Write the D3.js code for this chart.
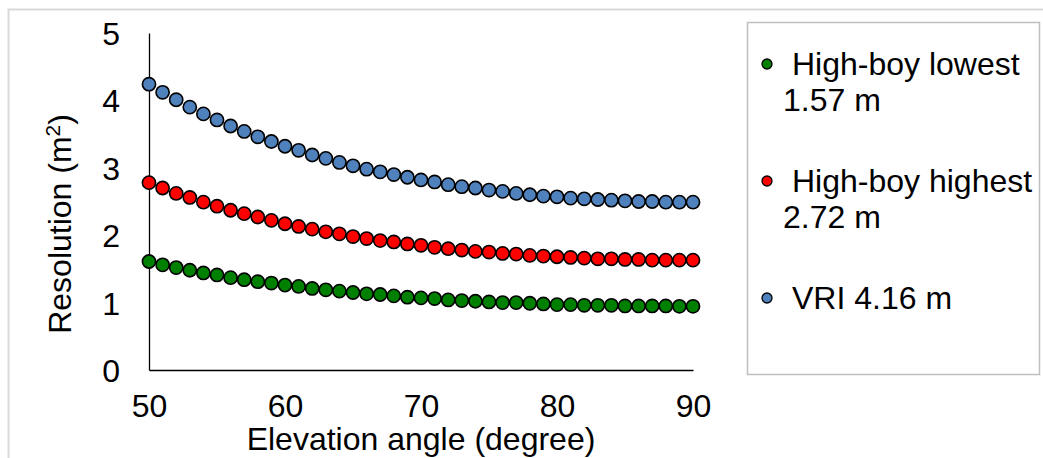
<!DOCTYPE html>
<html>
<head>
<meta charset="utf-8">
<script src="https://cdn.jsdelivr.net/npm/d3@7/dist/d3.min.js"></script>
<style>
  html, body { margin: 0; padding: 0; background: #fff; }
  svg { display: block; }
  text { font-family: "Liberation Sans", Arial, sans-serif; fill: #000; }
</style>
</head>
<body>
<svg id="chart" width="1043" height="458"></svg>
<script>
// ---- Data ----
const angles = d3.range(50, 91); // elevation angle, 50..90 degrees (1° steps)
const highBoyLowest = [1.61,1.56,1.52,1.48,1.44,1.41,1.37,1.34,1.31,1.29,1.26,1.24,1.21,1.19,1.17,1.15,1.13,1.12,1.10,1.08,1.07,1.06,1.04,1.03,1.02,1.01,1.00,1.00,0.99,0.98,0.97,0.97,0.96,0.96,0.96,0.95,0.95,0.95,0.95,0.945,0.945];
const highBoyHighest = [2.78,2.70,2.62,2.56,2.49,2.43,2.37,2.32,2.27,2.22,2.17,2.13,2.09,2.05,2.02,1.98,1.95,1.92,1.90,1.87,1.85,1.82,1.80,1.78,1.76,1.75,1.73,1.72,1.70,1.69,1.68,1.67,1.66,1.65,1.65,1.64,1.64,1.63,1.63,1.63,1.63];
const vri = [4.24,4.12,4.01,3.90,3.80,3.71,3.62,3.54,3.46,3.39,3.32,3.26,3.19,3.14,3.08,3.03,2.98,2.94,2.90,2.86,2.82,2.79,2.75,2.72,2.70,2.67,2.65,2.62,2.60,2.58,2.57,2.55,2.54,2.53,2.52,2.51,2.50,2.50,2.49,2.49,2.49];
const xTicks = [50, 60, 70, 80, 90];
const yTicks = [0, 1, 2, 3, 4, 5];
const seriesNames = ["High-boy lowest", "High-boy highest", "VRI 4.16 m"];
const seriesSub = ["1.57 m", "2.72 m", ""];
const seriesColors = ["#008000", "#ff0000", "#4f81bd"];
const seriesValues = [highBoyLowest, highBoyHighest, vri];

// ---- Layout ----
const svg = d3.select("#chart");
const FS = 32;
const x = d3.scaleLinear().domain([50, 90]).range([149, 693]);
const y = d3.scaleLinear().domain([0, 5]).range([370, 33]);

// outer chart frame
svg.append("rect").attr("x", 8.5).attr("y", 9.5).attr("width", 1100).attr("height", 500)
  .attr("fill", "none").attr("stroke", "#d9d9d9").attr("stroke-width", 2);

// axes
const xAxis = d3.axisBottom(x).tickValues(xTicks).tickSize(0).tickPadding(0).tickFormat(d3.format("d"));
const gx = svg.append("g").attr("transform", `translate(0,${y(0)})`).call(xAxis);
gx.select(".domain").attr("stroke", "#000").attr("stroke-width", 1.3);
gx.selectAll(".tick text").attr("font-size", FS).attr("dy", null).attr("y", 47)
  .style("font-family", "'Liberation Sans', Arial, sans-serif").attr("fill", "#000");

const yAxis = d3.axisLeft(y).tickValues(yTicks).tickSize(0).tickPadding(29).tickFormat(d3.format("d"));
const gy = svg.append("g").attr("transform", `translate(${x(50)},0)`).call(yAxis);
gy.select(".domain").attr("stroke", "#000").attr("stroke-width", 1.3);
gy.selectAll(".tick text").attr("font-size", FS).attr("dy", "0.36em")
  .style("font-family", "'Liberation Sans', Arial, sans-serif").attr("fill", "#000");

// axis titles
svg.append("text").attr("x", (x(50) + x(90)) / 2).attr("y", 450)
  .attr("text-anchor", "middle").attr("font-size", FS).text("Elevation angle (degree)");

const yt = svg.append("text").attr("transform", "translate(71,224) rotate(-90)")
  .attr("text-anchor", "middle").attr("font-size", FS);
yt.append("tspan").text("Resolution (m");
yt.append("tspan").attr("font-size", FS * 0.65).attr("dy", -11).text("2");
yt.append("tspan").attr("dy", 11).text(")");

// points
seriesValues.forEach((vals, i) => {
  svg.append("g").selectAll("circle").data(angles.map((a, j) => [a, vals[j]]))
    .join("circle")
    .attr("cx", d => x(d[0])).attr("cy", d => y(d[1])).attr("r", 6.6)
    .attr("fill", seriesColors[i]).attr("stroke", "#000").attr("stroke-width", 1.6);
});

// legend
svg.append("rect").attr("x", 747.5).attr("y", 22.5).attr("width", 292).attr("height", 352)
  .attr("fill", "#fff").attr("stroke", "#bfbfbf").attr("stroke-width", 1.5);
const legY = [64, 181, 298];
seriesNames.forEach((name, i) => {
  svg.append("circle").attr("cx", 767).attr("cy", legY[i]).attr("r", 5)
    .attr("fill", seriesColors[i]).attr("stroke", "#000").attr("stroke-width", 1.3);
  svg.append("text").attr("x", 792).attr("y", legY[i] + 11).attr("font-size", FS).text(name);
  if (seriesSub[i]) {
    svg.append("text").attr("x", 783).attr("y", legY[i] + 47).attr("font-size", FS).text(seriesSub[i]);
  }
});
</script>
</body>
</html>
